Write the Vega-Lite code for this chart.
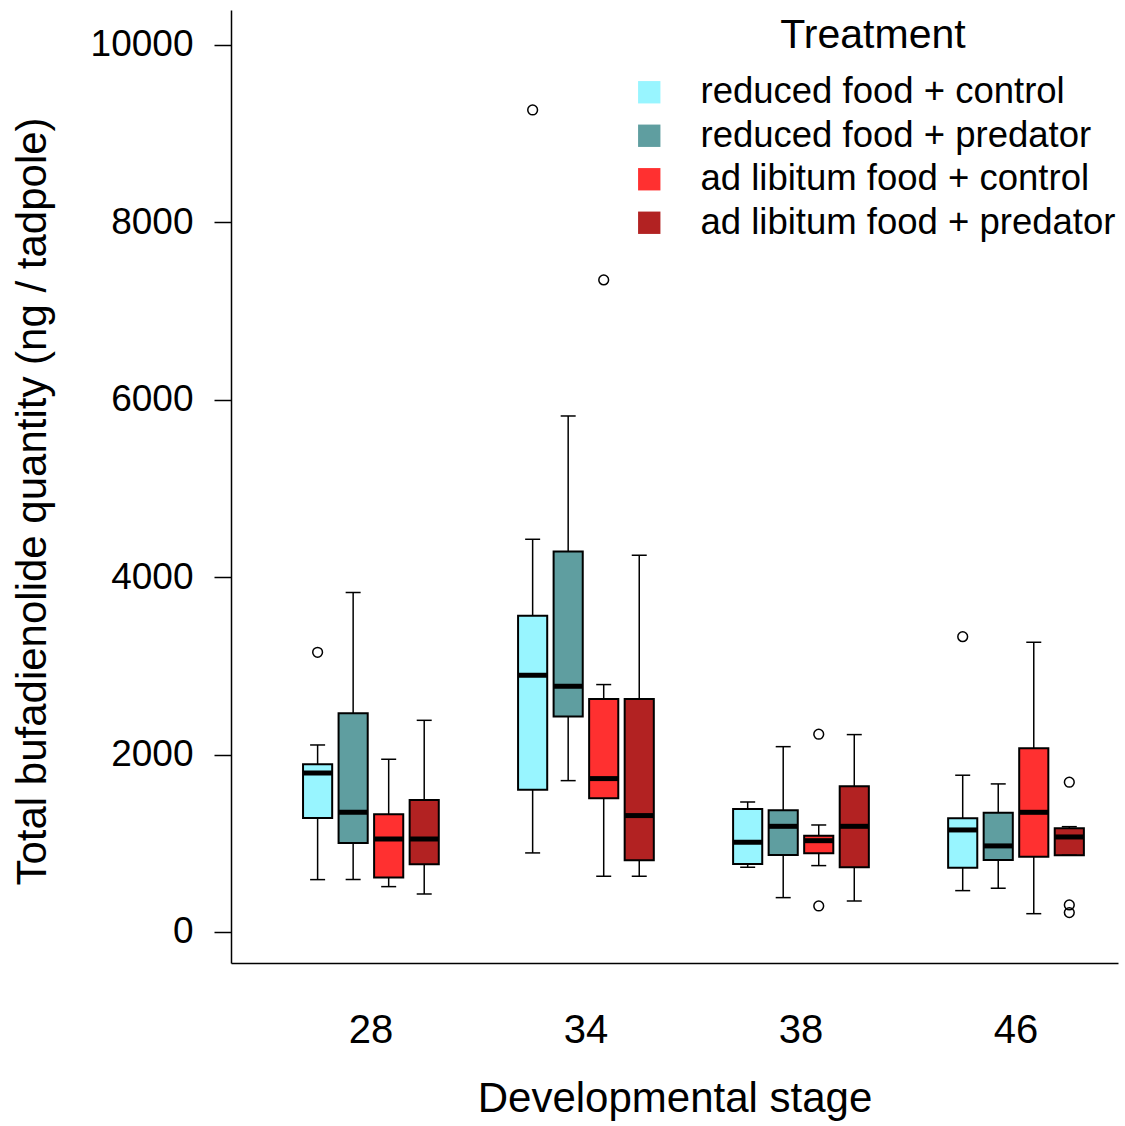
{
  "$schema": "https://vega.github.io/schema/vega-lite/v6.json",
  "width": 887,
  "height": 953,
  "autosize": {"type": "none"},
  "padding": {"left": 231, "top": 10, "right": 7, "bottom": 163},
  "background": "white",
  "config": {
    "view": {"stroke": null},
    "font": "Liberation Sans",
    "axis": {"grid": false, "domainColor": "black", "tickColor": "black", "labelColor": "black", "titleColor": "black", "titleFontWeight": "normal", "labelFont": "Liberation Sans", "titleFont": "Liberation Sans"},
    "legend": {"labelFont": "Liberation Sans", "titleFont": "Liberation Sans"}
  },
  "datasets": {
    "boxes": [
      {"stage": "28", "treatment": "reduced food + control", "lower": 590, "q1": 1285, "median": 1792, "q3": 1890, "upper": 2108},
      {"stage": "28", "treatment": "reduced food + predator", "lower": 590, "q1": 1003, "median": 1349, "q3": 2466, "upper": 3826},
      {"stage": "28", "treatment": "ad libitum food + control", "lower": 511, "q1": 613, "median": 1048, "q3": 1327, "upper": 1947},
      {"stage": "28", "treatment": "ad libitum food + predator", "lower": 428, "q1": 763, "median": 1048, "q3": 1488, "upper": 2386},
      {"stage": "34", "treatment": "reduced food + control", "lower": 891, "q1": 1604, "median": 2894, "q3": 3566, "upper": 4427},
      {"stage": "34", "treatment": "reduced food + predator", "lower": 1706, "q1": 2428, "median": 2770, "q3": 4288, "upper": 5817},
      {"stage": "34", "treatment": "ad libitum food + control", "lower": 628, "q1": 1507, "median": 1729, "q3": 2627, "upper": 2789},
      {"stage": "34", "treatment": "ad libitum food + predator", "lower": 628, "q1": 808, "median": 1312, "q3": 2627, "upper": 4247},
      {"stage": "38", "treatment": "reduced food + control", "lower": 729, "q1": 767, "median": 1011, "q3": 1387, "upper": 1466},
      {"stage": "38", "treatment": "reduced food + predator", "lower": 387, "q1": 868, "median": 1191, "q3": 1372, "upper": 2089},
      {"stage": "38", "treatment": "ad libitum food + control", "lower": 748, "q1": 887, "median": 1029, "q3": 1086, "upper": 1206},
      {"stage": "38", "treatment": "ad libitum food + predator", "lower": 349, "q1": 729, "median": 1191, "q3": 1642, "upper": 2225},
      {"stage": "46", "treatment": "reduced food + control", "lower": 466, "q1": 725, "median": 1150, "q3": 1282, "upper": 1767},
      {"stage": "46", "treatment": "reduced food + predator", "lower": 493, "q1": 812, "median": 970, "q3": 1345, "upper": 1669},
      {"stage": "46", "treatment": "ad libitum food + control", "lower": 206, "q1": 849, "median": 1349, "q3": 2071, "upper": 3266},
      {"stage": "46", "treatment": "ad libitum food + predator", "lower": 865, "q1": 865, "median": 1071, "q3": 1169, "upper": 1187}
    ],
    "outliers": [
      {"stage": "28", "treatment": "reduced food + control", "value": 3153},
      {"stage": "34", "treatment": "reduced food + control", "value": 9267},
      {"stage": "34", "treatment": "ad libitum food + control", "value": 7351},
      {"stage": "38", "treatment": "ad libitum food + control", "value": 2229},
      {"stage": "38", "treatment": "ad libitum food + control", "value": 293},
      {"stage": "46", "treatment": "reduced food + control", "value": 3329},
      {"stage": "46", "treatment": "ad libitum food + predator", "value": 1688},
      {"stage": "46", "treatment": "ad libitum food + predator", "value": 304},
      {"stage": "46", "treatment": "ad libitum food + predator", "value": 218}
    ]
  },
  "encoding": {
    "x": {
      "field": "stage", "type": "nominal", "sort": ["28", "34", "38", "46"],
      "scale": {"paddingInner": 0.339, "paddingOuter": 0.232, "align": 0.69},
      "axis": {"title": "Developmental stage", "labelAngle": 0, "ticks": false, "tickSize": 0, "labelFontSize": 40, "labelPadding": 47, "titleFontSize": 42, "titlePadding": 28, "domainWidth": 1.5}
    },
    "xOffset": {
      "field": "treatment", "type": "nominal",
      "sort": ["reduced food + control", "reduced food + predator", "ad libitum food + control", "ad libitum food + predator"],
      "scale": {"paddingInner": 0.18, "paddingOuter": 0.09}
    }
  },
  "layer": [
    {
      "data": {"name": "boxes"},
      "mark": {"type": "rule", "color": "black", "strokeWidth": 1.5},
      "encoding": {
        "y": {"field": "lower", "type": "quantitative",
          "scale": {"domain": [-350, 10394], "nice": false, "zero": false},
          "axis": {"title": "Total bufadienolide quantity (ng / tadpole)", "values": [0, 2000, 4000, 6000, 8000, 10000], "format": "d", "tickSize": 17, "tickWidth": 1.5, "domainWidth": 1.5, "labelFontSize": 37, "labelPadding": 21, "titleFontSize": 42, "titlePadding": 36, "titleY": 491}},
        "y2": {"field": "upper"}
      }
    },
    {
      "data": {"name": "boxes"},
      "mark": {"type": "bar", "stroke": "black", "strokeWidth": 2},
      "encoding": {
        "y": {"field": "q1", "type": "quantitative"},
        "y2": {"field": "q3"},
        "color": {
          "field": "treatment", "type": "nominal",
          "sort": ["reduced food + control", "reduced food + predator", "ad libitum food + control", "ad libitum food + predator"],
          "scale": {"domain": ["reduced food + control", "reduced food + predator", "ad libitum food + control", "ad libitum food + predator"], "range": ["#98F5FF", "#5F9EA0", "#FF3030", "#B22222"]},
          "legend": {
            "title": "Treatment", "orient": "none", "legendX": 400, "legendY": 6, "padding": 0,
            "symbolType": "square", "symbolSize": 500, "symbolStrokeWidth": 0, "symbolOpacity": 1,
            "labelFontSize": 36.5, "labelOffset": 33, "labelLimit": 0, "titleLimit": 0, "labelColor": "black", "rowPadding": 6.5,
            "titleFontSize": 41, "titleFontWeight": "normal", "titleColor": "black", "titleAnchor": "middle", "titlePadding": 17
          }
        }
      }
    },
    {
      "data": {"name": "boxes"},
      "mark": {"type": "tick", "color": "black", "size": 29, "thickness": 5, "opacity": 1},
      "encoding": {"y": {"field": "median", "type": "quantitative"}}
    },
    {
      "data": {"name": "boxes"},
      "mark": {"type": "tick", "color": "black", "size": 15, "thickness": 1.5, "opacity": 1},
      "encoding": {"y": {"field": "upper", "type": "quantitative"}}
    },
    {
      "data": {"name": "boxes"},
      "mark": {"type": "tick", "color": "black", "size": 15, "thickness": 1.5, "opacity": 1},
      "encoding": {"y": {"field": "lower", "type": "quantitative"}}
    },
    {
      "data": {"name": "outliers"},
      "mark": {"type": "point", "shape": "circle", "filled": false, "stroke": "black", "strokeWidth": 1.5, "size": 95, "opacity": 1},
      "encoding": {"y": {"field": "value", "type": "quantitative"}}
    }
  ]
}
